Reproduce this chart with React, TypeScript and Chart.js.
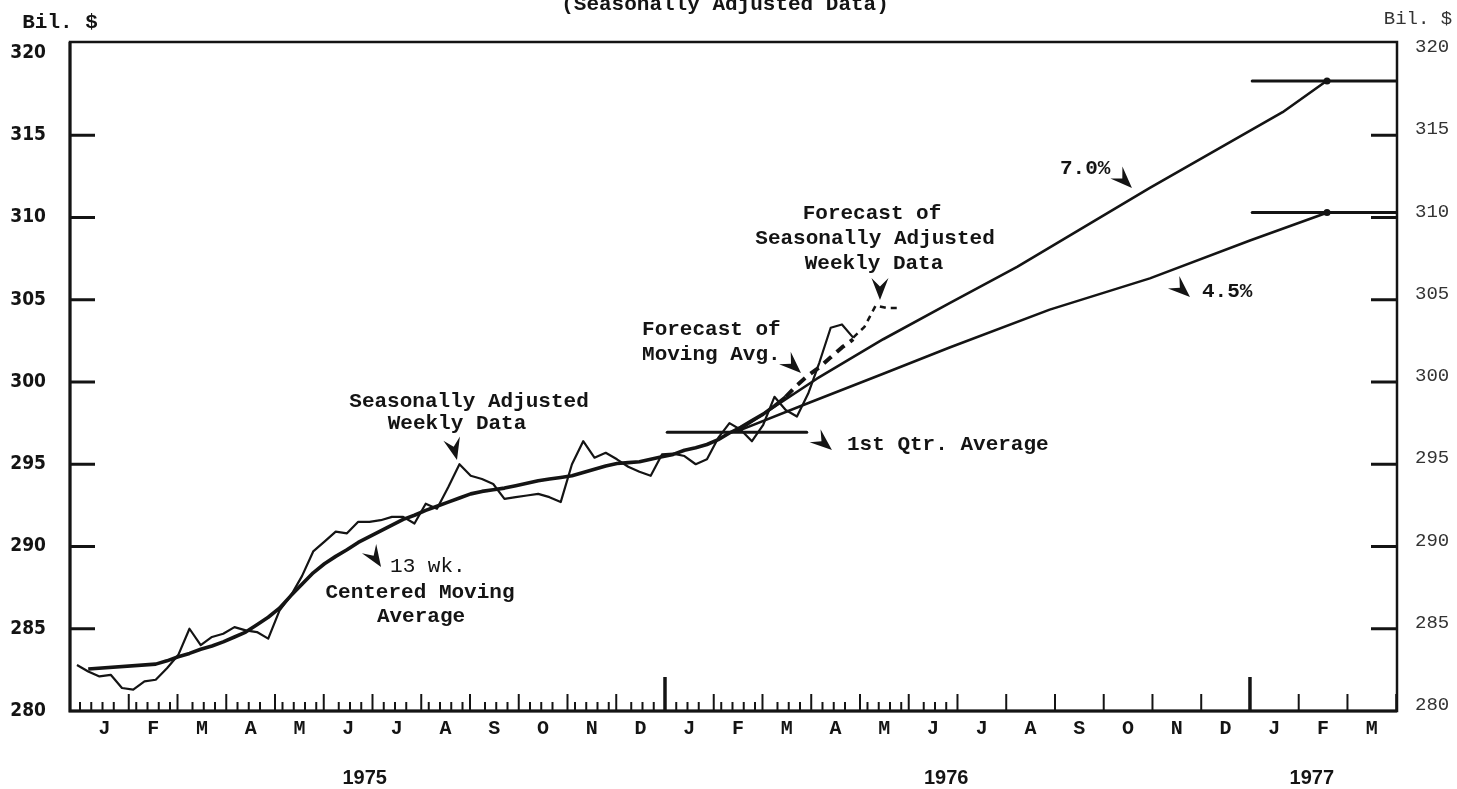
import React, { useEffect, useRef } from 'react';
import { Chart, registerables } from 'chart.js';

Chart.register(...registerables);

const INK = '#141414';
const WEEKS_PER_MONTH = 52 / 12;
const X_MIN = -0.89;
const X_MAX = 117.07;
const Y_MIN = 280;
const Y_MAX = 320.67;
const Y_TICKS = [280, 285, 290, 295, 300, 305, 310, 315, 320];

// x unit: weeks since 1 Jan 1975
const WEEK_START = -0.27;
const WEEKLY = [
  282.8, 282.4, 282.1, 282.2, 281.4, 281.3, 281.8, 281.9, 282.6, 283.4,
  285.0, 284.0, 284.5, 284.7, 285.1, 284.9, 284.8, 284.4, 286.1, 287.0,
  288.2, 289.7, 290.3, 290.9, 290.8, 291.5, 291.5, 291.6, 291.8, 291.8,
  291.4, 292.6, 292.3, 293.6, 295.0, 294.3, 294.1, 293.8, 292.9, 293.0,
  293.1, 293.2, 293.0, 292.7, 295.0, 296.4, 295.4, 295.7, 295.3, 294.85,
  294.55, 294.3, 295.6, 295.65, 295.5, 295.0, 295.3, 296.6, 297.5, 297.1,
  296.4, 297.4, 299.1, 298.3, 297.9, 299.3, 301.2, 303.3, 303.5, 302.7,
];
const WEEKLY_FORECAST_START = 69;
const WEEKLY_FORECAST = [302.7, 303.35, 304.65, 304.5, 304.5];

const MA_START = 1;
const MOVING_AVG: (number | null)[] = [
  282.55, null, null, null, null, null,
  282.85, 283.05, 283.3, 283.5, 283.75, 283.95, 284.2, 284.5, 284.8, 285.25,
  285.7, 286.25, 287.0, 287.7, 288.4, 288.95, 289.4, 289.8, 290.25, 290.6,
  290.95, 291.3, 291.65, 291.9, 292.2, 292.45, 292.7, 292.95, 293.2, 293.35,
  293.45, 293.55, 293.7, 293.85, 294.0, 294.1, 294.2, 294.3, 294.5, 294.7,
  294.9, 295.05, 295.1, 295.15, 295.3, 295.45, 295.6, 295.85, 296.0, 296.2,
  296.5, 296.9, 297.25, 297.65, 298.05, 298.55, 299.1,
];
const MA_FORECAST_START = 63;
const MA_FORECAST = [299.1, 299.8, 300.4, 300.9, 301.5, 302.1, 302.6];

const GROWTH7_WEEKS = [58.4, 65.5, 71.4, 77.3, 83.3, 95.1, 106.9, 110.8];
const GROWTH7 = [297.0, 300.2, 302.6, 304.8, 307.0, 311.8, 316.4, 318.3];
const GROWTH45_WEEKS = [58.4, 64.3, 71.4, 77.3, 86.2, 95.1, 104.0, 110.9];
const GROWTH45 = [297.0, 298.6, 300.5, 302.1, 304.4, 306.3, 308.6, 310.3];

const Q1_AVG_WEEKS = [52.2, 64.6];
const Q1_AVG = 296.95;
const TARGET_WEEKS = [104.2, 117.07];
const TARGET7 = 318.3;
const TARGET45 = 310.3;
const TARGET_POINT_WEEK = 110.85;

const MONTH_LABELS = 'JFMAMJJASONDJFMAMJJASONDJFM'.split('');
const YEAR_LABELS = ['1975', '1976', '1977'];
const YEAR_LABEL_WEEKS = [25.3, 77.0, 109.5];
const WEEKLY_TICK_LAST = 77;
const MONTH_TICK_COUNT = 27;

const NOTES = [
  { t: 'Seasonally Adjusted', x: 34.58, y: 298.78, align: 'center', w: 'bold' },
  { t: 'Weekly Data', x: 33.51, y: 297.45, align: 'center', w: 'bold' },
  { t: '13 wk.', x: 27.56, y: 288.81, align: 'left', w: 'normal' },
  { t: 'Centered Moving', x: 30.22, y: 287.17, align: 'center', w: 'bold' },
  { t: 'Average', x: 30.31, y: 285.71, align: 'center', w: 'bold' },
  { t: 'Forecast of', x: 49.96, y: 303.16, align: 'left', w: 'bold' },
  { t: 'Moving Avg.', x: 49.96, y: 301.64, align: 'left', w: 'bold' },
  { t: 'Forecast of', x: 70.4, y: 310.21, align: 'center', w: 'bold' },
  { t: 'Seasonally Adjusted', x: 70.67, y: 308.69, align: 'center', w: 'bold' },
  { t: 'Weekly Data', x: 70.58, y: 307.17, align: 'center', w: 'bold' },
  { t: '1st Qtr. Average', x: 68.18, y: 296.17, align: 'left', w: 'bold' },
  { t: '7.0%', x: 87.11, y: 312.95, align: 'left', w: 'bold' },
  { t: '4.5%', x: 99.73, y: 305.47, align: 'left', w: 'bold' },
];

const ARROWS = [
  { x: 33.51, y: 295.26, a: 76 },
  { x: 26.76, y: 288.75, a: 57 },
  { x: 64.09, y: 300.55, a: 43 },
  { x: 71.11, y: 304.98, a: 90 },
  { x: 93.51, y: 311.79, a: 45 },
  { x: 98.67, y: 305.17, a: 42 },
  { x: 66.84, y: 295.87, a: 40 },
];

const MONO = "'Liberation Mono', 'DejaVu Sans Mono', monospace";
const NARROW = "'Liberation Sans Narrow', 'DejaVu Sans Condensed', 'Liberation Sans', sans-serif";
const SANS = "'Liberation Sans', Arial, sans-serif";

const decor = {
  id: 'decor',
  afterDraw(chart: any) {
    const { ctx, chartArea: a, scales } = chart;
    const xs = scales.x;
    const ys = scales.y;
    ctx.save();
    ctx.strokeStyle = INK;
    ctx.fillStyle = INK;
    // frame
    ctx.lineWidth = 2.5;
    ctx.strokeRect(a.left, a.top, a.right - a.left, a.bottom - a.top);
    ctx.lineWidth = 3;
    ctx.beginPath();
    ctx.moveTo(a.left, a.top);
    ctx.lineTo(a.left, a.bottom);
    ctx.lineTo(a.right, a.bottom);
    ctx.stroke();

    // bottom ticks
    const monthWeeks: number[] = [];
    for (let m = 1; m <= MONTH_TICK_COUNT; m++) monthWeeks.push(m * WEEKS_PER_MONTH);
    const tick = (w: number, len: number, lw: number) => {
      const px = xs.getPixelForValue(w);
      ctx.lineWidth = lw;
      ctx.beginPath();
      ctx.moveTo(px, a.bottom);
      ctx.lineTo(px, a.bottom - len);
      ctx.stroke();
    };
    for (let w = 0; w <= WEEKLY_TICK_LAST; w++) {
      if (monthWeeks.some((mw) => Math.abs(mw - w) < 0.45)) continue;
      tick(w, 9, 2);
    }
    monthWeeks.forEach((mw, i) => {
      const m = i + 1;
      if (m % 12 === 0) tick(mw, 34, 3.5);
      else tick(mw, 17, 2);
    });

    // y ticks (inward)
    ctx.lineWidth = 3;
    Y_TICKS.forEach((v) => {
      if (v === Y_MIN || v === 320) return;
      const py = ys.getPixelForValue(v);
      ctx.beginPath();
      ctx.moveTo(a.left, py);
      ctx.lineTo(a.left + 25, py);
      ctx.moveTo(a.right, py);
      ctx.lineTo(a.right - 26, py);
      ctx.stroke();
    });

    // notes
    ctx.textBaseline = 'middle';
    NOTES.forEach((n) => {
      ctx.font = `${n.w} 21px ${MONO}`;
      ctx.textAlign = n.align;
      ctx.fillText(n.t, xs.getPixelForValue(n.x), ys.getPixelForValue(n.y));
    });

    // arrowheads
    ARROWS.forEach((ar) => {
      const px = xs.getPixelForValue(ar.x);
      const py = ys.getPixelForValue(ar.y);
      ctx.save();
      ctx.translate(px, py);
      ctx.rotate((ar.a * Math.PI) / 180);
      const L = 22;
      const W = 17;
      ctx.beginPath();
      ctx.moveTo(0, 0);
      ctx.lineTo(-L, -W / 2);
      ctx.lineTo(-L * 0.62, 0);
      ctx.lineTo(-L, W / 2);
      ctx.closePath();
      ctx.fill();
      ctx.restore();
    });

    // header texts
    ctx.textBaseline = 'alphabetic';
    ctx.textAlign = 'center';
    ctx.font = `bold 21px ${MONO}`;
    ctx.fillText('(Seasonally Adjusted Data)', 725, 10);
    ctx.fillText('Bil. $', 60, 28);
    ctx.font = `normal 19px ${MONO}`;
    ctx.fillStyle = '#333';
    ctx.fillText('Bil. $', 1418, 24);
    ctx.restore();
  },
};

export default function App() {
  const ref = useRef<HTMLCanvasElement>(null);
  useEffect(() => {
    const weekly = WEEKLY.map((v, i) => ({ x: WEEK_START + i, y: v }));
    const weeklyFc = WEEKLY_FORECAST.map((v, i) => ({ x: WEEK_START + WEEKLY_FORECAST_START + i, y: v }));
    const ma = MOVING_AVG.map((v, i) => ({ x: WEEK_START + MA_START + i, y: v }));
    const maFc = MA_FORECAST.map((v, i) => ({ x: WEEK_START + MA_FORECAST_START + i, y: v }));
    const g7 = GROWTH7.map((v, i) => ({ x: GROWTH7_WEEKS[i], y: v }));
    const g45 = GROWTH45.map((v, i) => ({ x: GROWTH45_WEEKS[i], y: v }));
    const q1 = Q1_AVG_WEEKS.map((w) => ({ x: w, y: Q1_AVG }));
    const t7 = TARGET_WEEKS.map((w) => ({ x: w, y: TARGET7 }));
    const t45 = TARGET_WEEKS.map((w) => ({ x: w, y: TARGET45 }));
    const dots = [
      { x: TARGET_POINT_WEEK, y: TARGET7 },
      { x: TARGET_POINT_WEEK, y: TARGET45 },
    ];

    const line = (data: any[], width: number, dash: number[] = [], extra: any = {}) => ({
      data,
      borderColor: INK,
      backgroundColor: INK,
      borderWidth: width,
      borderDash: dash,
      pointRadius: 0,
      fill: false,
      tension: 0,
      spanGaps: true,
      borderJoinStyle: 'round',
      ...extra,
    });

    const hidden = { grid: { display: false, drawTicks: false }, border: { display: false } };

    const chart = new Chart(ref.current as HTMLCanvasElement, {
      type: 'line',
      data: {
        datasets: [
          line(weekly, 2.2),
          line(weeklyFc, 2.5, [6, 5]),
          line(ma, 3.6),
          line(maFc, 4, [10, 7]),
          line(g7, 2.6),
          line(g45, 2.6),
          line(q1, 3, [], { borderCapStyle: 'round' }),
          line(t7, 3, [], { borderCapStyle: 'round' }),
          line(t45, 3, [], { borderCapStyle: 'round' }),
          line(dots, 0, [], { showLine: false, pointRadius: 3.5, pointBorderWidth: 0, pointBackgroundColor: INK }),
        ] as any,
      },
      options: {
        animation: false,
        responsive: false,
        maintainAspectRatio: false,
        layout: { padding: { top: 42, left: 0, right: 0, bottom: 0 } },
        plugins: { legend: { display: false }, tooltip: { enabled: false }, title: { display: false } },
        scales: {
          x: {
            type: 'linear',
            min: X_MIN,
            max: X_MAX,
            position: 'bottom',
            weight: 0,
            ...hidden,
            afterBuildTicks: (s: any) => {
              s.ticks = MONTH_LABELS.map((_, m) => ({ value: (m + 0.5) * WEEKS_PER_MONTH }));
            },
            afterFit: (s: any) => {
              s.height = 48;
            },
            ticks: {
              autoSkip: false,
              maxRotation: 0,
              minRotation: 0,
              padding: 6,
              color: INK,
              font: { family: MONO, size: 20, weight: 'bold' },
              callback: (_v: any, i: number) => MONTH_LABELS[i],
            },
          },
          x2: {
            type: 'linear',
            min: X_MIN,
            max: X_MAX,
            position: 'bottom',
            weight: 1,
            ...hidden,
            afterBuildTicks: (s: any) => {
              s.ticks = YEAR_LABEL_WEEKS.map((w) => ({ value: w }));
            },
            afterFit: (s: any) => {
              s.height = 30;
            },
            ticks: {
              autoSkip: false,
              maxRotation: 0,
              minRotation: 0,
              padding: 7,
              color: INK,
              font: { family: SANS, size: 20, weight: 'bold' },
              callback: (_v: any, i: number) => YEAR_LABELS[i],
            },
          },
          y: {
            type: 'linear',
            min: Y_MIN,
            max: Y_MAX,
            position: 'left',
            ...hidden,
            afterBuildTicks: (s: any) => {
              s.ticks = Y_TICKS.map((v) => ({ value: v }));
            },
            afterFit: (s: any) => {
              s.width = 70;
            },
            ticks: {
              padding: 24,
              color: INK,
              font: { family: NARROW, size: 19, weight: 'bold' },
              callback: (v: any) => String(v),
            },
          },
          y2: {
            type: 'linear',
            min: Y_MIN,
            max: Y_MAX,
            position: 'right',
            ...hidden,
            afterBuildTicks: (s: any) => {
              s.ticks = Y_TICKS.map((v) => ({ value: v }));
            },
            afterFit: (s: any) => {
              s.width = 60;
            },
            ticks: {
              padding: 18,
              labelOffset: -6,
              color: '#333',
              font: { family: MONO, size: 19, weight: 'normal' },
              callback: (v: any) => String(v),
            },
          },
        },
      } as any,
      plugins: [decor as any],
    });
    return () => chart.destroy();
  }, []);

  return (
    <div style={{ position: 'absolute', left: 0, top: 0, width: 1457, height: 789, background: '#fff' }}>
      <canvas ref={ref} width={1457} height={789} style={{ display: 'block' }} />
    </div>
  );
}
